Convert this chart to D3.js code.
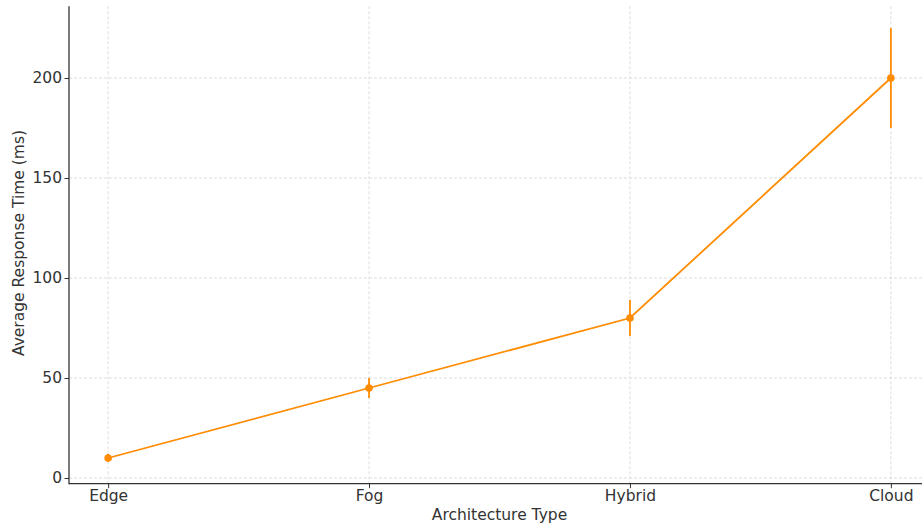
<!DOCTYPE html>
<html>
<head>
<meta charset="utf-8">
<script src="https://cdn.jsdelivr.net/npm/d3@7"></script>
<style>
  html, body { margin: 0; padding: 0; background: #fff; }
  svg { display: block; font-family: "DejaVu Sans", sans-serif; }
</style>
</head>
<body>
<svg id="chart" width="922" height="526"></svg>
<script>
// Average response time per architecture, with spread (± ms)
const architectures = ["Edge", "Fog", "Hybrid", "Cloud"];
const responseTimes = [10, 45, 80, 200];
const responseErrors = [2, 5, 9, 25];
const yTicks = [0, 50, 100, 150, 200];

const svg = d3.select("#chart");
const plot = { left: 69, right: 930, top: 6.3, bottom: 483.7 };
const lineColor = "#ff8c00";
const fontSize = "15.5px";

// Categorical positions with padding on both ends
const x = d3.scalePoint()
  .domain(architectures)
  .range([plot.left, plot.right])
  .padding(0.15);

const y = d3.scaleLinear()
  .domain([-2.85, 235.85])
  .range([plot.bottom, plot.top]);

// Grid
const grid = svg.append("g").attr("stroke", "#d4d4d4").attr("stroke-width", 0.8)
  .attr("stroke-dasharray", "3,2");
grid.selectAll("line.v").data(architectures).join("line")
  .attr("x1", d => x(d)).attr("x2", d => x(d))
  .attr("y1", plot.top).attr("y2", plot.bottom);
grid.selectAll("line.h").data(yTicks).join("line")
  .attr("x1", plot.left).attr("x2", 922)
  .attr("y1", d => y(d)).attr("y2", d => y(d));

// Axes
const yAxis = svg.append("g")
  .attr("transform", `translate(${plot.left},0)`)
  .call(d3.axisLeft(y).tickValues(yTicks).tickSize(4.5).tickPadding(2.5));
const xAxis = svg.append("g")
  .attr("transform", `translate(0,${plot.bottom})`)
  .call(d3.axisBottom(x).tickSize(4.5).tickPadding(2));
[yAxis, xAxis].forEach(a => {
  a.select(".domain").remove();
  a.selectAll(".tick line").attr("stroke", "#333").attr("stroke-width", 1);
  a.selectAll(".tick text").attr("fill", "#333").style("font-size", fontSize)
    .style("font-family", "DejaVu Sans, sans-serif");
});
// Spines
svg.append("line").attr("x1", plot.left).attr("x2", plot.left)
  .attr("y1", plot.top).attr("y2", plot.bottom + 0.6)
  .attr("stroke", "#333").attr("stroke-width", 1.3);
svg.append("line").attr("x1", plot.left).attr("x2", 922)
  .attr("y1", plot.bottom).attr("y2", plot.bottom)
  .attr("stroke", "#333").attr("stroke-width", 1.3);

// Series line
const line = d3.line()
  .x((d, i) => x(architectures[i]))
  .y(d => y(d));
svg.append("path").datum(responseTimes)
  .attr("d", line)
  .attr("fill", "none")
  .attr("stroke", lineColor)
  .attr("stroke-width", 1.8);

// Error bars
svg.append("g").selectAll("line").data(responseTimes).join("line")
  .attr("x1", (d, i) => x(architectures[i]))
  .attr("x2", (d, i) => x(architectures[i]))
  .attr("y1", (d, i) => y(d - responseErrors[i]))
  .attr("y2", (d, i) => y(d + responseErrors[i]))
  .attr("stroke", lineColor)
  .attr("stroke-width", 1.8);

// Markers
svg.append("g").selectAll("circle").data(responseTimes).join("circle")
  .attr("cx", (d, i) => x(architectures[i]))
  .attr("cy", d => y(d))
  .attr("r", 3.8)
  .attr("fill", lineColor);

// Axis titles
svg.append("text")
  .attr("x", 499.5).attr("y", 520)
  .attr("text-anchor", "middle")
  .attr("fill", "#333")
  .style("font-size", fontSize)
  .text("Architecture Type");
svg.append("text")
  .attr("transform", "translate(24,243) rotate(-90)")
  .attr("text-anchor", "middle")
  .attr("fill", "#333")
  .style("font-size", fontSize)
  .text("Average Response Time (ms)");
</script>
</body>
</html>
